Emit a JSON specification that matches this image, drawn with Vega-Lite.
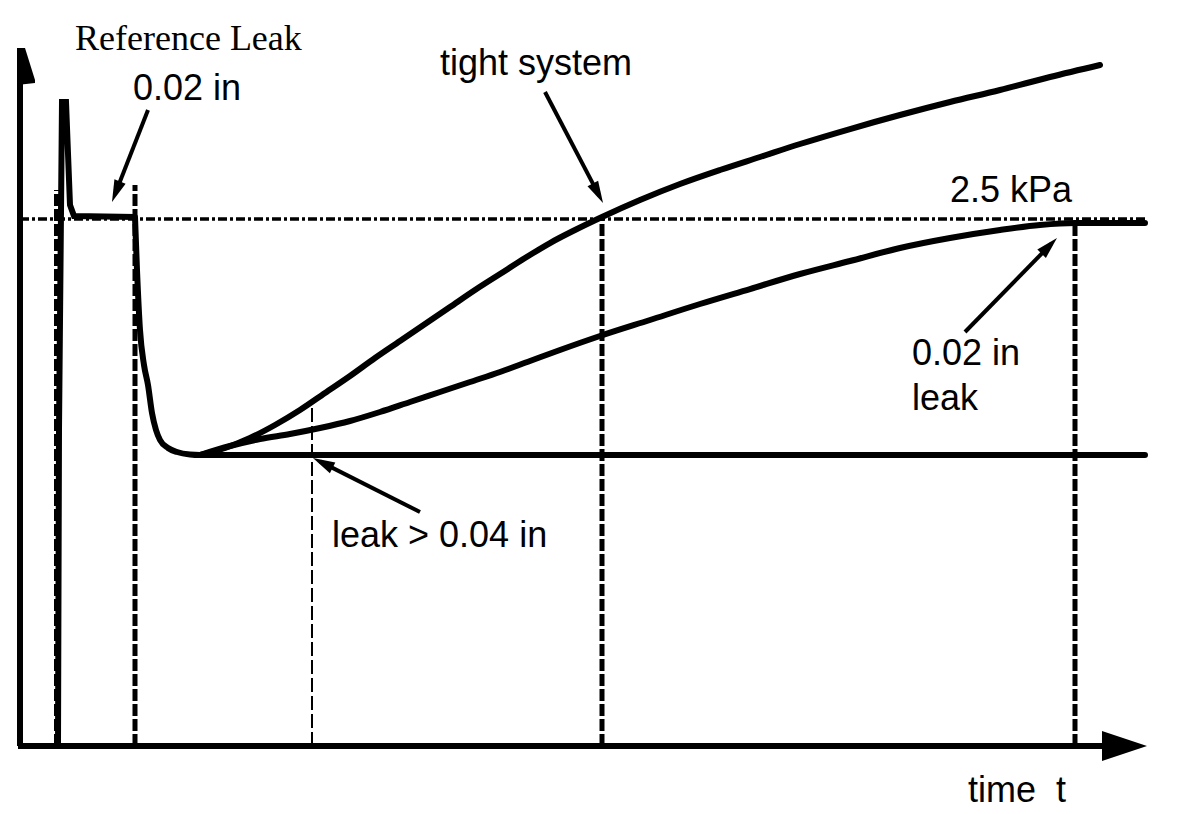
{
  "$schema": "https://vega.github.io/schema/vega-lite/v6.json",
  "width": 1185,
  "height": 814,
  "autosize": {"type": "fit", "contains": "padding"},
  "padding": 0,
  "background": "white",
  "config": {"view": {"stroke": null}},
  "datasets": {
    "spike": [
      {"t": 3.8, "p": 0},
      {"t": 3.9, "p": 1.499},
      {"t": 4.2, "p": 3.055},
      {"t": 4.6, "p": 3.055},
      {"t": 5.0, "p": 2.5664},
      {"t": 5.4, "p": 2.5142},
      {"t": 11.5, "p": 2.5095}
    ],
    "curves": [
      {"s": "base", "t": 11.5, "p": 2.5095},
      {"s": "base", "t": 11.7, "p": 2.258},
      {"s": "base", "t": 12.0, "p": 1.9734},
      {"s": "base", "t": 12.4, "p": 1.8074},
      {"s": "base", "t": 12.8, "p": 1.7125},
      {"s": "base", "t": 13.2, "p": 1.5797},
      {"s": "base", "t": 13.6, "p": 1.499},
      {"s": "base", "t": 14.0, "p": 1.4516},
      {"s": "base", "t": 14.8, "p": 1.4137},
      {"s": "base", "t": 15.7, "p": 1.3947},
      {"s": "base", "t": 17.0, "p": 1.3828},
      {"s": "base", "t": 18.0, "p": 1.3804},
      {"s": "base", "t": 112.5, "p": 1.3804},
      {"s": "tight", "t": 18.0, "p": 1.3804},
      {"s": "tight", "t": 20.5, "p": 1.4137},
      {"s": "tight", "t": 23.0, "p": 1.4611},
      {"s": "tight", "t": 25.5, "p": 1.5228},
      {"s": "tight", "t": 28.0, "p": 1.5939},
      {"s": "tight", "t": 30.5, "p": 1.6746},
      {"s": "tight", "t": 33.0, "p": 1.7552},
      {"s": "tight", "t": 35.5, "p": 1.8406},
      {"s": "tight", "t": 38.0, "p": 1.9212},
      {"s": "tight", "t": 40.5, "p": 2.0019},
      {"s": "tight", "t": 43.0, "p": 2.0825},
      {"s": "tight", "t": 45.5, "p": 2.1632},
      {"s": "tight", "t": 48.0, "p": 2.2391},
      {"s": "tight", "t": 50.5, "p": 2.315},
      {"s": "tight", "t": 53.0, "p": 2.3861},
      {"s": "tight", "t": 55.5, "p": 2.4478},
      {"s": "tight", "t": 58.2, "p": 2.5095},
      {"s": "tight", "t": 62.0, "p": 2.5901},
      {"s": "tight", "t": 66.0, "p": 2.666},
      {"s": "tight", "t": 70.0, "p": 2.7324},
      {"s": "tight", "t": 74.0, "p": 2.7941},
      {"s": "tight", "t": 78.0, "p": 2.8558},
      {"s": "tight", "t": 83.0, "p": 2.9269},
      {"s": "tight", "t": 88.0, "p": 2.9933},
      {"s": "tight", "t": 93.0, "p": 3.055},
      {"s": "tight", "t": 98.0, "p": 3.1119},
      {"s": "tight", "t": 103.0, "p": 3.1736},
      {"s": "tight", "t": 108.0, "p": 3.2305},
      {"s": "leak002", "t": 18.0, "p": 1.3804},
      {"s": "leak002", "t": 21.0, "p": 1.4231},
      {"s": "leak002", "t": 24.0, "p": 1.4563},
      {"s": "leak002", "t": 27.0, "p": 1.4801},
      {"s": "leak002", "t": 30.0, "p": 1.5085},
      {"s": "leak002", "t": 33.0, "p": 1.5417},
      {"s": "leak002", "t": 36.0, "p": 1.5844},
      {"s": "leak002", "t": 39.0, "p": 1.6319},
      {"s": "leak002", "t": 42.0, "p": 1.6793},
      {"s": "leak002", "t": 45.0, "p": 1.7267},
      {"s": "leak002", "t": 48.0, "p": 1.7742},
      {"s": "leak002", "t": 51.0, "p": 1.8264},
      {"s": "leak002", "t": 54.0, "p": 1.8785},
      {"s": "leak002", "t": 58.0, "p": 1.9449},
      {"s": "leak002", "t": 63.0, "p": 2.0209},
      {"s": "leak002", "t": 68.0, "p": 2.0968},
      {"s": "leak002", "t": 73.0, "p": 2.1679},
      {"s": "leak002", "t": 78.0, "p": 2.2391},
      {"s": "leak002", "t": 83.0, "p": 2.3007},
      {"s": "leak002", "t": 88.0, "p": 2.3624},
      {"s": "leak002", "t": 93.0, "p": 2.4098},
      {"s": "leak002", "t": 98.0, "p": 2.4478},
      {"s": "leak002", "t": 102.0, "p": 2.4715},
      {"s": "leak002", "t": 105.5, "p": 2.481},
      {"s": "leak002", "t": 112.5, "p": 2.481}
    ],
    "heavyDash": [
      {"t": 3.65, "p": 0, "p2": 2.6376},
      {"t": 11.5, "p": 0, "p2": 2.6613},
      {"t": 58.2, "p": 0, "p2": 2.5095},
      {"t": 105.5, "p": 0, "p2": 2.481}
    ],
    "thinDash": [{"t": 29.2, "p": 0, "p2": 1.6319}],
    "level": [{"t": 0, "t2": 112.5, "p": 2.5}],
    "axes": [
      {"t": 0, "p": 0, "t2": 0, "p2": 3.311},
      {"t": -0.2, "p": 0, "t2": 109.2, "p2": 0}
    ],
    "yHead": [{"t": 0, "p": 3.311}],
    "xHead": [{"t": 112.7, "p": 0}],
    "arrows": [
      {"t": 12.8, "p": 3.0171, "t2": 9.49, "p2": 2.6162},
      {"t": 52.5, "p": 3.1024, "t2": 57.93, "p2": 2.6096},
      {"t": 94.5, "p": 1.9639, "t2": 103.14, "p2": 2.3828},
      {"t": 40.0, "p": 1.11, "t2": 30.01, "p2": 1.3491}
    ],
    "labels": [
      {"label": "0.02 in", "t": 11.3, "p": 3.0645},
      {"label": "tight system", "t": 42.0, "p": 3.1831},
      {"label": "2.5 kPa", "t": 93.0, "p": 2.5806},
      {"label": "0.02 in", "t": 89.2, "p": 1.8074},
      {"label": "leak", "t": 89.2, "p": 1.5939},
      {"label": "leak > 0.04 in", "t": 31.2, "p": 0.944},
      {"label": "time\u00a0 t", "t": 94.8, "p": -0.2657}
    ],
    "serifLabels": [
      {"label": "Reference Leak", "t": 5.5, "p": 3.3017}
    ]
  },
  "layer": [
    {
      "data": {"name": "level"},
      "mark": {"type": "rule", "color": "black", "strokeWidth": 3.5, "strokeDash": [9, 3, 3, 3]},
      "encoding": {
        "x": {"field": "t", "type": "quantitative", "scale": {"domain": [-2, 116.5], "nice": false, "zero": false}, "axis": null},
        "x2": {"field": "t2"},
        "y": {"field": "p", "type": "quantitative", "scale": {"domain": [-0.322581, 3.538899], "nice": false, "zero": false}, "axis": null}
      }
    },
    {
      "data": {"name": "heavyDash"},
      "mark": {"type": "rule", "color": "black", "strokeWidth": 5, "strokeDash": [12, 3]},
      "encoding": {
        "x": {"field": "t", "type": "quantitative", "scale": {"domain": [-2, 116.5], "nice": false, "zero": false}, "axis": null},
        "y": {"field": "p", "type": "quantitative", "scale": {"domain": [-0.322581, 3.538899], "nice": false, "zero": false}, "axis": null},
        "y2": {"field": "p2"}
      }
    },
    {
      "data": {"name": "thinDash"},
      "mark": {"type": "rule", "color": "black", "strokeWidth": 2, "strokeDash": [14, 4]},
      "encoding": {
        "x": {"field": "t", "type": "quantitative", "scale": {"domain": [-2, 116.5], "nice": false, "zero": false}, "axis": null},
        "y": {"field": "p", "type": "quantitative", "scale": {"domain": [-0.322581, 3.538899], "nice": false, "zero": false}, "axis": null},
        "y2": {"field": "p2"}
      }
    },
    {
      "data": {"name": "axes"},
      "mark": {"type": "rule", "color": "black", "strokeWidth": 6},
      "encoding": {
        "x": {"field": "t", "type": "quantitative", "scale": {"domain": [-2, 116.5], "nice": false, "zero": false}, "axis": null},
        "x2": {"field": "t2"},
        "y": {"field": "p", "type": "quantitative", "scale": {"domain": [-0.322581, 3.538899], "nice": false, "zero": false}, "axis": null},
        "y2": {"field": "p2"}
      }
    },
    {
      "data": {"name": "yHead"},
      "mark": {"type": "point", "filled": true, "color": "black", "opacity": 1, "size": 400, "strokeWidth": 0, "shape": "M-0.3,0L0.5,0L1.5,3.2L1.5,3.5L-0.3,3.7Z"},
      "encoding": {
        "x": {"field": "t", "type": "quantitative", "scale": {"domain": [-2, 116.5], "nice": false, "zero": false}, "axis": null},
        "y": {"field": "p", "type": "quantitative", "scale": {"domain": [-0.322581, 3.538899], "nice": false, "zero": false}, "axis": null}
      }
    },
    {
      "data": {"name": "xHead"},
      "mark": {"type": "point", "filled": true, "color": "black", "opacity": 1, "size": 400, "strokeWidth": 0, "shape": "M0,0L-4.5,-1.5L-4.5,1.5Z"},
      "encoding": {
        "x": {"field": "t", "type": "quantitative", "scale": {"domain": [-2, 116.5], "nice": false, "zero": false}, "axis": null},
        "y": {"field": "p", "type": "quantitative", "scale": {"domain": [-0.322581, 3.538899], "nice": false, "zero": false}, "axis": null}
      }
    },
    {
      "data": {"name": "spike"},
      "mark": {"type": "line", "color": "black", "strokeWidth": 6, "strokeJoin": "miter", "strokeCap": "butt"},
      "encoding": {
        "x": {"field": "t", "type": "quantitative", "scale": {"domain": [-2, 116.5], "nice": false, "zero": false}, "axis": null},
        "y": {"field": "p", "type": "quantitative", "scale": {"domain": [-0.322581, 3.538899], "nice": false, "zero": false}, "axis": null}
      }
    },
    {
      "data": {"name": "curves"},
      "mark": {"type": "line", "color": "black", "strokeWidth": 6, "strokeJoin": "round", "strokeCap": "round", "interpolate": "monotone"},
      "encoding": {
        "x": {"field": "t", "type": "quantitative", "scale": {"domain": [-2, 116.5], "nice": false, "zero": false}, "axis": null},
        "y": {"field": "p", "type": "quantitative", "scale": {"domain": [-0.322581, 3.538899], "nice": false, "zero": false}, "axis": null},
        "detail": {"field": "s", "type": "nominal"}
      }
    },
    {
      "data": {"name": "arrows"},
      "mark": {"type": "rule", "color": "black", "strokeWidth": 4},
      "encoding": {
        "x": {"field": "t", "type": "quantitative", "scale": {"domain": [-2, 116.5], "nice": false, "zero": false}, "axis": null},
        "x2": {"field": "t2"},
        "y": {"field": "p", "type": "quantitative", "scale": {"domain": [-0.322581, 3.538899], "nice": false, "zero": false}, "axis": null},
        "y2": {"field": "p2"}
      }
    },
    {
      "data": {"name": "arrows"},
      "transform": [
        {"calculate": "atan2(10 * (datum.t2 - datum.t), 210.8 * (datum.p2 - datum.p)) * 180 / PI", "as": "ang"}
      ],
      "mark": {"type": "point", "filled": true, "color": "black", "opacity": 1, "size": 400, "strokeWidth": 0, "shape": "M0,-0.8L0.6,1.4L-0.6,1.4Z"},
      "encoding": {
        "x": {"field": "t2", "type": "quantitative", "scale": {"domain": [-2, 116.5], "nice": false, "zero": false}, "axis": null},
        "y": {"field": "p2", "type": "quantitative", "scale": {"domain": [-0.322581, 3.538899], "nice": false, "zero": false}, "axis": null},
        "angle": {"field": "ang", "type": "quantitative", "scale": null}
      }
    },
    {
      "data": {"name": "labels"},
      "mark": {"type": "text", "color": "black", "font": "Liberation Sans", "fontSize": 36, "align": "left", "baseline": "alphabetic"},
      "encoding": {
        "x": {"field": "t", "type": "quantitative", "scale": {"domain": [-2, 116.5], "nice": false, "zero": false}, "axis": null},
        "y": {"field": "p", "type": "quantitative", "scale": {"domain": [-0.322581, 3.538899], "nice": false, "zero": false}, "axis": null},
        "text": {"field": "label", "type": "nominal"}
      }
    },
    {
      "data": {"name": "serifLabels"},
      "mark": {"type": "text", "color": "black", "font": "Liberation Serif", "fontSize": 36, "align": "left", "baseline": "alphabetic"},
      "encoding": {
        "x": {"field": "t", "type": "quantitative", "scale": {"domain": [-2, 116.5], "nice": false, "zero": false}, "axis": null},
        "y": {"field": "p", "type": "quantitative", "scale": {"domain": [-0.322581, 3.538899], "nice": false, "zero": false}, "axis": null},
        "text": {"field": "label", "type": "nominal"}
      }
    }
  ]
}
